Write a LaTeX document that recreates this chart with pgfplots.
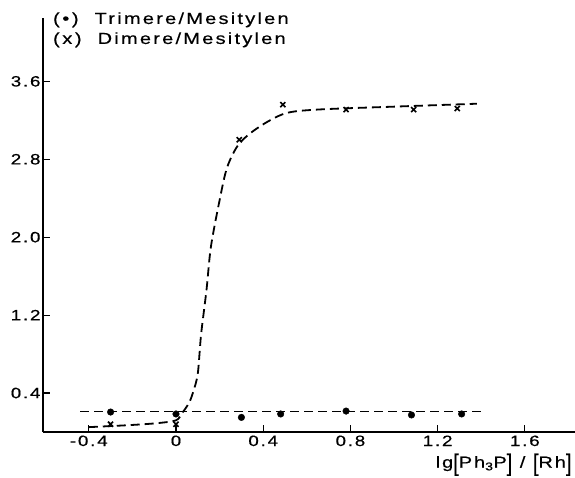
\documentclass[border=0pt]{standalone}
\usepackage{fontspec}
\setmainfont{Liberation Sans}[LetterSpace=12, FakeStretch=1.25, FakeBold=0.5]
\usepackage{pgfplots}
\pgfplotsset{compat=1.18}
\usetikzlibrary{calc}
\newcommand\bb[1]{\raisebox{-0.2em}{\scalebox{1}[1.5]{#1}}}
\begin{document}
\begin{tikzpicture}
\begin{axis}[
  scale only axis, width=532pt, height=414pt,
  xmin=-0.61, xmax=1.83, ymin=0, ymax=4.25,
  axis lines=left, axis line style={-, line width=1.5pt},
  xtick={-0.4,0,0.4,0.8,1.2,1.6}, xticklabels={-0.4,0,0.4,0.8,1.2,1.6},
  ytick={0.4,1.2,2.0,2.8,3.6}, yticklabels={0.4,1.2,2.0,2.8,3.6},
  tick align=inside, major tick length=7pt, tick style={line width=1.1pt, black},
  ticklabel style={font=\fontsize{15}{17}\selectfont},
  yticklabel style={xshift=1pt},
  xlabel={lg\bb{[}Ph\textsubscript{3}P\bb{]} / \bb{[}Rh\bb{]}},
  xlabel style={at={(axis description cs:1,0)}, anchor=north east, yshift=-18pt, font=\fontsize{16}{18}\selectfont},
  clip=false,
]
% Dimere curve
\addplot[black, line width=1.8pt, dash pattern=on 9pt off 5pt, smooth, tension=0.5] coordinates {
(-0.40,0.05) (-0.22,0.07) (-0.09,0.09) (0,0.12) (0.03,0.2) (0.06,0.3) (0.08,0.42) (0.10,0.6) (0.115,1.0) (0.14,1.46) (0.16,1.9) (0.20,2.38) (0.235,2.72) (0.29,2.96) (0.38,3.13) (0.5,3.27) (0.65,3.31) (1.0,3.34) (1.38,3.37)};
\addplot[only marks, black, mark=x, mark size=3.6pt, mark options={line width=1.6pt}] coordinates {
(-0.3,0.08) (0,0.08) (0.29,3.0) (0.49,3.36) (0.78,3.31) (1.09,3.31) (1.29,3.32)};
% Trimere line
\addplot[black, line width=1.8pt, dash pattern=on 9pt off 5pt] coordinates {(-0.44,0.21) (1.40,0.21)};
\addplot[only marks, black, mark=*, mark size=3.3pt] coordinates {
(-0.30,0.205) (0,0.185) (0.30,0.15) (0.48,0.185) (0.78,0.215) (1.08,0.175) (1.31,0.185)};
\node[anchor=north west, align=left, inner sep=0pt, font=\fontsize{16}{20}\selectfont\addfontfeature{LetterSpace=14}] at (axis cs:-0.565,4.31) {(\,\textbullet\,)\hspace{16pt}Trimere/Mesitylen\\(\,x\,)\hspace{16pt}Dimere/Mesitylen};
\end{axis}
\pgfresetboundingbox
\path[use as bounding box] ($(current axis.south west)+(-43pt,-45pt)$) rectangle ($(current axis.north east)+(0pt,18pt)$);
\end{tikzpicture}
\end{document}
